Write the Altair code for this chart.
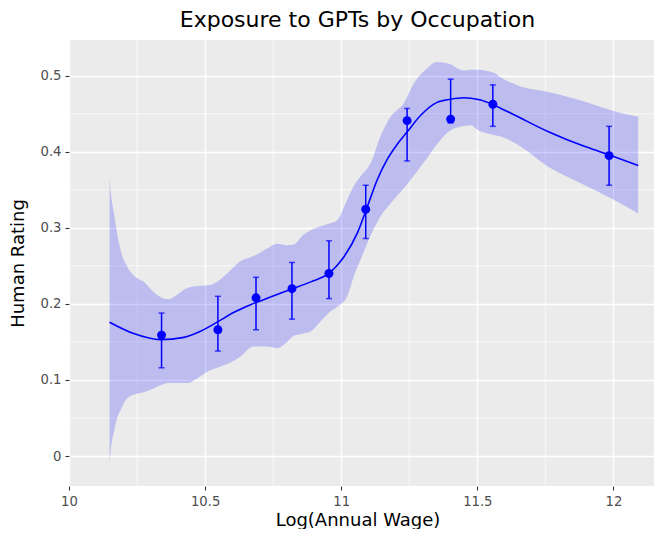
import altair as alt
import pandas as pd

# ---- data ----
# fitted smooth line
line_x = [10.149, 10.238, 10.336, 10.422, 10.483, 10.544, 10.606, 10.667, 10.740, 10.814,
          10.888, 10.954, 10.982, 11.010, 11.059, 11.096, 11.132, 11.169, 11.206, 11.242,
          11.292, 11.352, 11.401, 11.450, 11.475, 11.512, 11.557, 11.622, 11.683, 11.757,
          11.830, 11.904, 11.983, 12.091]
line_y = [0.176, 0.161, 0.153, 0.156, 0.164, 0.176, 0.189, 0.199, 0.209, 0.219,
          0.229, 0.240, 0.2495, 0.262, 0.293, 0.328, 0.363, 0.390, 0.410, 0.426,
          0.448, 0.465, 0.469, 0.471, 0.4705, 0.468, 0.462, 0.451, 0.440, 0.427,
          0.416, 0.406, 0.396, 0.382]

# confidence ribbon
band_x = [10.149, 10.154, 10.164, 10.177, 10.190, 10.214, 10.250, 10.275, 10.299, 10.336,
          10.365, 10.397, 10.434, 10.483, 10.520, 10.552, 10.581, 10.630, 10.678, 10.728,
          10.765, 10.801, 10.825, 10.861, 10.888, 10.924, 10.960, 10.985, 11.022, 11.046,
          11.071, 11.096, 11.108, 11.144, 11.181, 11.230, 11.267, 11.316, 11.352, 11.401,
          11.426, 11.450, 11.475, 11.500, 11.561, 11.586, 11.659, 11.757, 11.855, 11.953,
          12.027, 12.091]
band_hi = [0.365, 0.345, 0.322, 0.293, 0.270, 0.249, 0.234, 0.229, 0.220, 0.209,
           0.206, 0.212, 0.221, 0.224, 0.225, 0.231, 0.240, 0.256, 0.263, 0.273,
           0.279, 0.277, 0.278, 0.291, 0.297, 0.302, 0.306, 0.310, 0.337, 0.355,
           0.368, 0.378, 0.385, 0.420, 0.446, 0.464, 0.490, 0.510, 0.518, 0.515,
           0.510, 0.507, 0.508, 0.508, 0.504, 0.498, 0.486, 0.479, 0.470, 0.459,
           0.451, 0.446]
band_lo = [-0.009, 0.010, 0.030, 0.050, 0.061, 0.076, 0.082, 0.084, 0.087, 0.093,
           0.096, 0.096, 0.096, 0.105, 0.113, 0.117, 0.121, 0.131, 0.144, 0.144,
           0.142, 0.150, 0.158, 0.161, 0.164, 0.177, 0.190, 0.196, 0.210, 0.236,
           0.258, 0.280, 0.290, 0.315, 0.332, 0.352, 0.369, 0.392, 0.410, 0.428,
           0.432, 0.434, 0.435, 0.429, 0.422, 0.420, 0.407, 0.381, 0.363, 0.346,
           0.332, 0.319]

# binned points with error bars
pt_x = [10.340, 10.547, 10.687, 10.819, 10.955, 11.090, 11.242, 11.402, 11.557, 11.984]
pt_y = [0.159, 0.166, 0.208, 0.220, 0.240, 0.3245, 0.441, 0.443, 0.4625, 0.395]
pt_lo = [0.116, 0.138, 0.166, 0.180, 0.207, 0.286, 0.388, 0.438, 0.4335, 0.356]
pt_hi = [0.188, 0.210, 0.235, 0.2545, 0.283, 0.356, 0.457, 0.4955, 0.488, 0.4335]

x_ticks = [10, 10.5, 11, 11.5, 12]
y_ticks = [0, 0.1, 0.2, 0.3, 0.4, 0.5]
x_minor = [10.25, 10.75, 11.25, 11.75]
y_minor = [0.05, 0.15, 0.25, 0.35, 0.45]

title_text = "Exposure to GPTs by Occupation"
x_title = "Log(Annual Wage)"
y_title = "Human Rating"

# ---- tables ----
line_df = pd.DataFrame({"x": line_x, "y": line_y})
band_df = pd.DataFrame({"x": band_x, "hi": band_hi, "lo": band_lo})
pt_df = pd.DataFrame({"x": pt_x, "y": pt_y, "lo": pt_lo, "hi": pt_hi})
xminor_df = pd.DataFrame({"x": x_minor})
yminor_df = pd.DataFrame({"y": y_minor})

FONT = "DejaVu Sans"
xscale = alt.Scale(domain=[10, 12.149], nice=False, zero=False)
yscale = alt.Scale(domain=[-0.0394, 0.547], nice=False, zero=False)

xaxis = alt.Axis(values=x_ticks, format="~g", title=x_title, grid=True,
                 gridColor="white", gridWidth=1.4, domain=False,
                 tickColor="#333333", tickSize=4, tickWidth=1.1,
                 labelFont=FONT, labelFontSize=13.2, labelColor="#4D4D4D",
                 labelPadding=5, labelFlush=False,
                 titleFont=FONT, titleFontSize=18, titleFontWeight="normal",
                 titleColor="black", titleBaseline="alphabetic",
                 titleX=288.5, titleY=39)
yaxis = alt.Axis(values=y_ticks, format="~g", title=y_title, grid=True,
                 gridColor="white", gridWidth=1.4, domain=False,
                 tickColor="#333333", tickSize=4, tickWidth=1.1,
                 labelFont=FONT, labelFontSize=13.2, labelColor="#4D4D4D",
                 labelPadding=4, labelFlush=False,
                 titleFont=FONT, titleFontSize=18, titleFontWeight="normal",
                 titleColor="black", titleBaseline="alphabetic",
                 titleX=-45.5, titleY=223)

minor_x = alt.Chart(xminor_df).mark_rule(color="white", strokeWidth=0.7).encode(
    x=alt.X("x:Q", scale=xscale, axis=xaxis))
minor_y = alt.Chart(yminor_df).mark_rule(color="white", strokeWidth=0.7).encode(
    y=alt.Y("y:Q", scale=yscale, axis=yaxis))

band = alt.Chart(band_df).mark_area(color="blue", opacity=0.2, interpolate="monotone").encode(
    x=alt.X("x:Q", scale=xscale, axis=xaxis),
    y=alt.Y("hi:Q", scale=yscale, axis=yaxis),
    y2="lo:Q")

line = alt.Chart(line_df).mark_line(color="blue", strokeWidth=1.6, interpolate="monotone").encode(
    x=alt.X("x:Q", scale=xscale, axis=xaxis),
    y=alt.Y("y:Q", scale=yscale, axis=yaxis))

errs = alt.Chart(pt_df).mark_errorbar(ticks=True, color="blue", thickness=1.5, size=6).encode(
    x=alt.X("x:Q", scale=xscale, axis=xaxis),
    y=alt.Y("lo:Q", scale=yscale, axis=yaxis),
    y2="hi:Q")

pts = alt.Chart(pt_df).mark_circle(color="blue", size=80, opacity=1).encode(
    x=alt.X("x:Q", scale=xscale, axis=xaxis),
    y=alt.Y("y:Q", scale=yscale, axis=yaxis))

chart = alt.layer(minor_x, minor_y, band, line, errs, pts).properties(
    width=585, height=446,
    autosize=alt.AutoSizeParams(type="none"),
    padding={"left": 61, "top": 32, "right": 0, "bottom": 43},
    title=alt.TitleParams(text=title_text, font=FONT, fontSize=22, fontWeight="normal",
                          color="black", anchor="middle", dx=-4, dy=23, offset=13.5,
                          baseline="alphabetic"),
).configure_view(fill="#EBEBEB", strokeWidth=0)

chart.save("out.html", embed_options={"renderer": "svg", "actions": False})
